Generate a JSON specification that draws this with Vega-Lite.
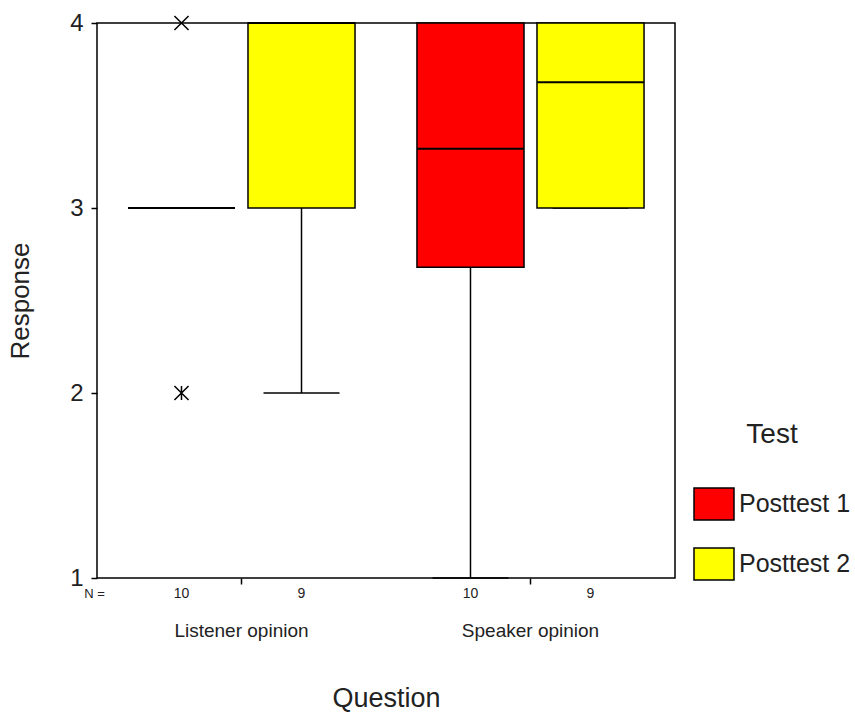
{
  "$schema": "https://vega.github.io/schema/vega-lite/v6.json",
  "width": 578,
  "height": 555,
  "autosize": {"type": "none"},
  "padding": {"left": 97, "top": 23, "right": 180, "bottom": 135},
  "background": "white",
  "config": {
    "font": "Liberation Sans",
    "view": {"stroke": "black", "strokeWidth": 1.5},
    "axis": {"grid": false, "domainColor": "black", "domainWidth": 1.5, "tickColor": "black", "tickWidth": 1.5, "labelColor": "#222", "titleColor": "#222", "titleFontWeight": "normal"},
    "legend": {"labelColor": "#222", "titleColor": "#222"}
  },
  "datasets": {
    "boxes": [
      {"Question": "Listener opinion", "Test": "Posttest 1", "lower": 3, "q1": 3, "median": 3, "q3": 3, "upper": 3, "n": 10},
      {"Question": "Listener opinion", "Test": "Posttest 2", "lower": 2, "q1": 3, "median": 4, "q3": 4, "upper": 4, "n": 9},
      {"Question": "Speaker opinion", "Test": "Posttest 1", "lower": 1, "q1": 2.68, "median": 3.32, "q3": 4, "upper": 4, "n": 10},
      {"Question": "Speaker opinion", "Test": "Posttest 2", "lower": 3, "q1": 3, "median": 3.68, "q3": 4, "upper": 4, "n": 9}
    ],
    "outliers": [
      {"Question": "Listener opinion", "Test": "Posttest 1", "value": 4, "kind": "extreme"},
      {"Question": "Listener opinion", "Test": "Posttest 1", "value": 2, "kind": "outlier"}
    ],
    "nlabel": [
      {"Question": "Listener opinion", "Test": "Posttest 1", "label": "N ="}
    ]
  },
  "encoding": {
    "x": {
      "field": "Question", "type": "nominal",
      "sort": ["Listener opinion", "Speaker opinion"],
      "scale": {"domain": ["Listener opinion", "Speaker opinion"], "paddingInner": 0, "paddingOuter": 0},
      "axis": {"title": "Question", "titleFontSize": 27, "titlePadding": 45, "labelFontSize": 19, "labelAngle": 0, "labelPadding": 37, "tickSize": 6, "domain": false}
    },
    "xOffset": {
      "field": "Test", "type": "nominal",
      "scale": {"domain": ["Posttest 1", "Posttest 2"], "paddingInner": 0.108, "paddingOuter": 0.258}
    }
  },
  "layer": [
    {
      "data": {"name": "boxes"},
      "mark": {"type": "rule", "color": "black", "strokeWidth": 1.5},
      "encoding": {
        "y": {"field": "lower", "type": "quantitative", "scale": {"domain": [1, 4], "nice": false, "zero": false},
          "axis": {"title": "Response", "titleFontSize": 26, "titlePadding": 36, "labelFontSize": 24, "format": "d", "values": [1, 2, 3, 4], "tickSize": 6, "labelPadding": 8, "domain": false}},
        "y2": {"field": "q1"}
      }
    },
    {
      "data": {"name": "boxes"},
      "mark": {"type": "rule", "color": "black", "strokeWidth": 1.5},
      "encoding": {
        "y": {"field": "q3", "type": "quantitative"},
        "y2": {"field": "upper"}
      }
    },
    {
      "data": {"name": "boxes"},
      "mark": {"type": "tick", "color": "black", "size": 76, "thickness": 1.5, "opacity": 1},
      "encoding": {"y": {"field": "lower", "type": "quantitative"}}
    },
    {
      "data": {"name": "boxes"},
      "mark": {"type": "bar", "stroke": "black", "strokeWidth": 1.5, "opacity": 1},
      "encoding": {
        "y": {"field": "q1", "type": "quantitative"},
        "y2": {"field": "q3"},
        "color": {
          "field": "Test", "type": "nominal",
          "scale": {"domain": ["Posttest 1", "Posttest 2"], "range": ["#ff0000", "#ffff00"]},
          "legend": {
            "orient": "none", "legendX": 596, "legendY": 398,
            "title": "Test", "titleFontSize": 28, "titleFontWeight": "normal", "titleAnchor": "middle", "titlePadding": 34,
            "labelFontSize": 25, "labelOffset": 4, "rowPadding": 20,
            "symbolType": "M-1,-0.8L1,-0.8L1,0.8L-1,0.8Z", "symbolSize": 1600,
            "symbolStrokeColor": "black", "symbolStrokeWidth": 1.5
          }
        }
      }
    },
    {
      "data": {"name": "boxes"},
      "mark": {"type": "tick", "color": "black", "size": 107, "thickness": 2, "opacity": 1},
      "encoding": {"y": {"field": "median", "type": "quantitative"}}
    },
    {
      "data": {"name": "outliers"},
      "mark": {"type": "point", "filled": false, "strokeWidth": 1.5, "size": 200, "opacity": 1, "color": "black"},
      "encoding": {
        "y": {"field": "value", "type": "quantitative"},
        "shape": {"field": "kind", "type": "nominal",
          "scale": {"domain": ["extreme", "outlier"], "range": ["M-1,-1L1,1M-1,1L1,-1", "M-1,-1L1,1M-1,1L1,-1M0,-1L0,1"]},
          "legend": null}
      }
    },
    {
      "data": {"name": "boxes"},
      "mark": {"type": "text", "fontSize": 14, "dy": 16, "color": "#222"},
      "encoding": {
        "y": {"datum": 1, "type": "quantitative"},
        "text": {"field": "n", "type": "nominal"}
      }
    },
    {
      "data": {"name": "nlabel"},
      "mark": {"type": "text", "fontSize": 13, "dy": 16, "dx": -87, "color": "#222"},
      "encoding": {
        "y": {"datum": 1, "type": "quantitative"},
        "text": {"field": "label", "type": "nominal"}
      }
    }
  ]
}
